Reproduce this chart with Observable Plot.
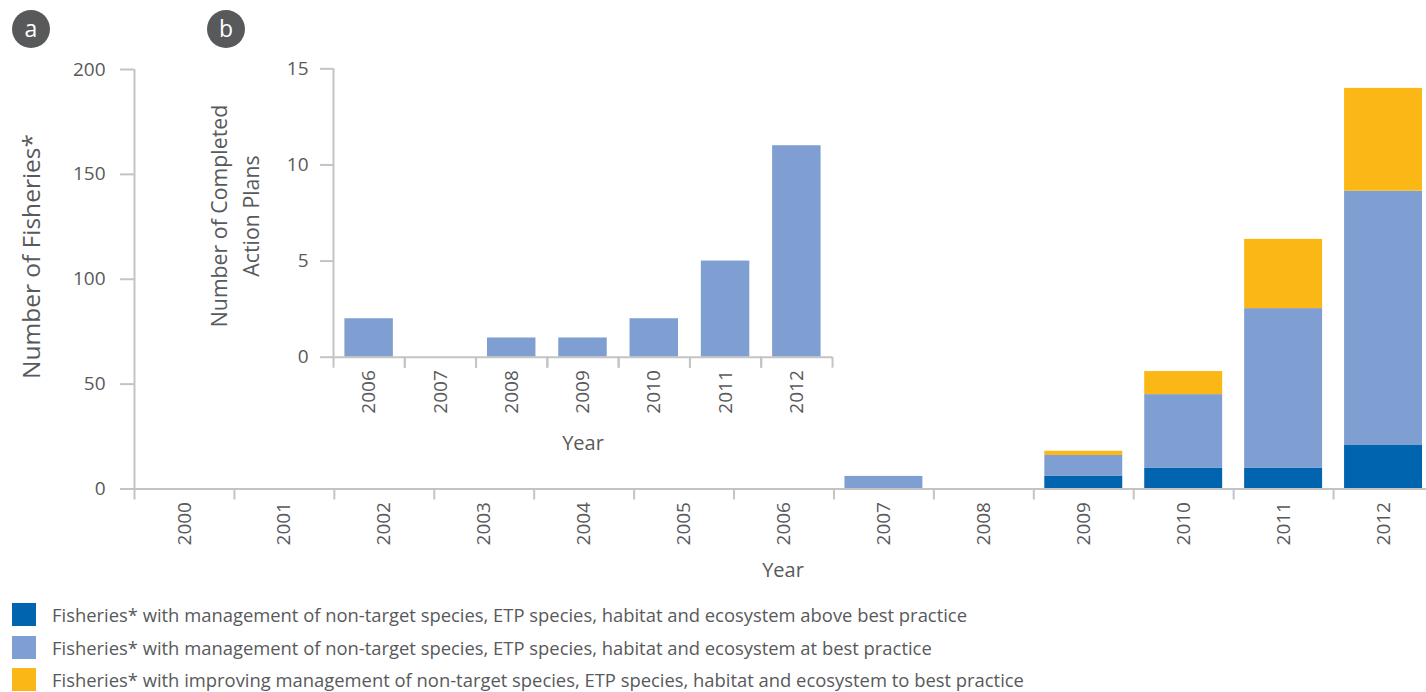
<!DOCTYPE html>
<html>
<head>
<meta charset="utf-8">
<script src="https://cdn.jsdelivr.net/npm/d3@7"></script>
<script src="https://cdn.jsdelivr.net/npm/@observablehq/plot@0.6"></script>
<style>
  html, body { margin: 0; padding: 0; background: #fff; overflow: hidden; }
  #wrap { position: relative; width: 1426px; height: 692px; font-family: "Open Sans", sans-serif; color: #58595b; }
  .abs { position: absolute; left: 0; top: 0; }
  .legend-row { position: absolute; left: 12px; height: 23px; display: flex; align-items: center; font-size: 18.4px; white-space: nowrap; }
  .legend-row .sw { width: 24px; height: 23px; margin-right: 16px; flex: none; }
</style>
</head>
<body>
<div id="wrap">
  <div id="main" class="abs"></div>
  <div id="inset" class="abs"></div>
  <svg id="overlay" class="abs" width="1426" height="600" style="pointer-events:none;font-family:'Open Sans',sans-serif">
    <circle cx="31" cy="29" r="19" fill="#58595b"></circle>
    <text x="31" y="37" text-anchor="middle" fill="#fff" font-size="23">a</text>
    <circle cx="226" cy="29" r="19" fill="#58595b"></circle>
    <text x="226" y="37" text-anchor="middle" fill="#fff" font-size="23">b</text>
    <text transform="translate(40,256.5) rotate(-90)" text-anchor="middle" fill="#58595b" font-size="24.5">Number of Fisheries*</text>
    <text transform="translate(227,216) rotate(-90)" text-anchor="middle" fill="#58595b" font-size="21.3">Number of Completed</text>
    <text transform="translate(259,216) rotate(-90)" text-anchor="middle" fill="#58595b" font-size="21.3">Action Plans</text>
    <text x="583" y="450" text-anchor="middle" fill="#58595b" font-size="20">Year</text>
    <text x="783" y="577" text-anchor="middle" fill="#58595b" font-size="20">Year</text>
  </svg>
  <div id="legend"></div>
</div>
<script>
// ---- data ----
const years = ["2000","2001","2002","2003","2004","2005","2006","2007","2008","2009","2010","2011","2012"];
const seriesNames = [
  "Fisheries* with management of non-target species, ETP species, habitat and ecosystem above best practice",
  "Fisheries* with management of non-target species, ETP species, habitat and ecosystem at best practice",
  "Fisheries* with improving management of non-target species, ETP species, habitat and ecosystem to best practice"
];
const aboveBest = [0,0,0,0,0,0,0,0,0,6,10,10,21];
const atBest    = [0,0,0,0,0,0,0,6,0,10,35,76,121];
const improving = [0,0,0,0,0,0,0,0,0,2,11,33,49];
const mainTicks = [0,50,100,150,200];

const insetYears = ["2006","2007","2008","2009","2010","2011","2012"];
const actionPlans = [2,0,1,1,2,5,11];
const insetTicks = [0,5,10,15];

const colors = ["#0064AF","#7F9FD2","#FBB715"];
const axisColor = "#c4c4c4";
const textColor = "#58595b";

// ---- main chart ----
const seriesValues = [aboveBest, atBest, improving];
const table = seriesNames.flatMap((s, si) => years.map((y, i) => ({year: y, series: s, value: seriesValues[si][i]})));

const W = 1426, mL = 134, mR = -7;
const step = (W - mR - mL) / years.length;

const main = Plot.plot({
  width: W, height: 590,
  marginLeft: mL, marginRight: mR, marginTop: 69, marginBottom: 101.5,
  style: {fontFamily: "'Open Sans', sans-serif", fontSize: "19px", color: textColor, background: "transparent", overflow: "visible"},
  x: {domain: years, paddingInner: 0.22, paddingOuter: 0.11, round: false, label: null},
  y: {domain: [0, 200], label: null},
  color: {domain: seriesNames, range: colors},
  marks: [
    Plot.barY(table, {x: "year", y: "value", fill: "series"}),
    Plot.ruleY([0], {stroke: axisColor, strokeWidth: 2}),
    Plot.ruleX([years[0]], {x: d => d, y1: 0, y2: 200, dx: -step / 2, stroke: axisColor, strokeWidth: 2}),
    Plot.axisY({ticks: mainTicks, tickSize: 14, tickPadding: 15, stroke: axisColor, strokeWidth: 2, label: null}),
    Plot.axisX({tickSize: 0, tickPadding: 13, tickRotate: -90, label: null}),
    Plot.axisX({tickSize: 11, tickFormat: () => "", dx: -step / 2, stroke: axisColor, strokeWidth: 2, label: null})
  ]
});
document.getElementById("main").appendChild(main);

// ---- inset chart ----
const insetTable = insetYears.map((y, i) => ({year: y, value: actionPlans[i]}));
const iW = 860, iL = 333, iR = 28;
const istep = (iW - iR - iL) / insetYears.length;
const inset = Plot.plot({
  width: iW, height: 470,
  marginLeft: iL, marginRight: iR, marginTop: 68.3, marginBottom: 113.3,
  style: {fontFamily: "'Open Sans', sans-serif", fontSize: "19px", color: textColor, background: "transparent", overflow: "visible"},
  x: {domain: insetYears, paddingInner: 0.32, paddingOuter: 0.16, round: false, label: null},
  y: {domain: [0, 15], label: null},
  marks: [
    Plot.barY(insetTable, {x: "year", y: "value", fill: colors[1]}),
    Plot.ruleY([0], {stroke: axisColor, strokeWidth: 2}),
    Plot.ruleX([insetYears[0]], {x: d => d, y1: 0, y2: 15, dx: -istep / 2, stroke: axisColor, strokeWidth: 2}),
    Plot.axisY({ticks: insetTicks, tickSize: 13, tickPadding: 12, stroke: axisColor, strokeWidth: 2, label: null}),
    Plot.axisX({tickSize: 0, tickPadding: 13, tickRotate: -90, label: null}),
    Plot.axisX({tickSize: 11, tickFormat: () => "", dx: -istep / 2, stroke: axisColor, strokeWidth: 2, label: null}),
    Plot.axisX({tickSize: 11, tickFormat: () => "", dx: istep / 2, stroke: axisColor, strokeWidth: 2, label: null})
  ]
});
document.getElementById("inset").appendChild(inset);

// ---- legend ----
const legend = document.getElementById("legend");
const rowTops = [603, 635.5, 668];
seriesNames.forEach((s, i) => {
  const row = document.createElement("div");
  row.className = "legend-row";
  row.style.top = rowTops[i] + "px";
  const sw = document.createElement("div");
  sw.className = "sw";
  sw.style.background = colors[i];
  const t = document.createElement("span");
  t.textContent = s;
  row.appendChild(sw);
  row.appendChild(t);
  legend.appendChild(row);
});
</script>
</body>
</html>
